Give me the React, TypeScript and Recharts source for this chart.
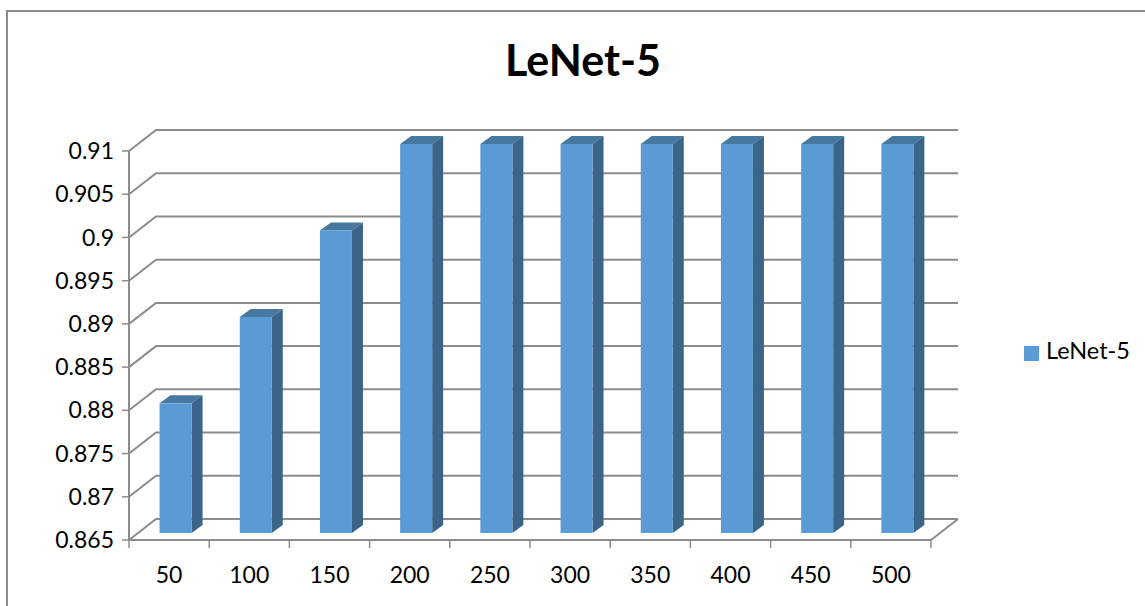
import { Bar, BarChart, CartesianGrid, Legend, XAxis, YAxis } from "recharts";

const categories = ["50", "100", "150", "200", "250", "300", "350", "400", "450", "500"];
const accuracy = [0.88, 0.89, 0.9, 0.91, 0.91, 0.91, 0.91, 0.91, 0.91, 0.91];
const yTicks = [0.865, 0.87, 0.875, 0.88, 0.885, 0.89, 0.895, 0.9, 0.905, 0.91];

const rows = categories.map((epoch, i) => ({ epoch, accuracy: accuracy[i] }));

const WIDTH = 1145;
const HEIGHT = 606;
const AXIS_COLOR = "#8c8c8c";
const FONT = "Lato, Carlito, Calibri, sans-serif";
const LABEL_SIZE = 23;

// pseudo-3D offsets: how far the back wall and the bars sit behind the front axis plane
const WALL_DX = 27;
const WALL_DY = 21;
const BAR_DX = 6.5;
const BAR_DY = 7;
const SIDE_DX = 11;
const SIDE_DY = 8;

function WallLine(props: any) {
  const { x1, x2, y1 } = props;
  const backY = y1 - WALL_DY;
  // the lowest line also closes the floor on the right
  const floor = y1 >= 539;
  return (
    <g fill="none" stroke={AXIS_COLOR} strokeWidth={2}>
      <polyline points={`${x1},${y1} ${x1 + WALL_DX},${backY} ${x2 + WALL_DX},${backY}`} />
      {floor && <line x1={x2} y1={y1} x2={x2 + WALL_DX} y2={backY} />}
    </g>
  );
}

function Bar3D(props: any) {
  const { x, y, width, height } = props;
  const left = x + BAR_DX;
  const right = left + width;
  const top = y - BAR_DY;
  const bottom = top + height;
  return (
    <g>
      <polygon
        points={`${left},${top} ${left + SIDE_DX},${top - SIDE_DY} ${right + SIDE_DX},${top - SIDE_DY} ${right},${top}`}
        fill="#47789f"
      />
      <polygon
        points={`${right},${top} ${right + SIDE_DX},${top - SIDE_DY} ${right + SIDE_DX},${bottom - SIDE_DY} ${right},${bottom}`}
        fill="#3a6589"
      />
      <rect x={left} y={top} width={width} height={height} fill="#5b9bd5" />
    </g>
  );
}

// tick marks sit on the band edges, labels in the band centre; y arrives below the axis line
function CategoryTick(props: any) {
  const { x, y, index, payload } = props;
  const band = 802 / categories.length;
  const edge = x - band / 2;
  const axisY = y - 8;
  return (
    <g>
      <line x1={edge} y1={axisY} x2={edge} y2={axisY + 8} stroke={AXIS_COLOR} strokeWidth={1.5} />
      {index === categories.length - 1 && (
        <line x1={edge + band} y1={axisY} x2={edge + band} y2={axisY + 8} stroke={AXIS_COLOR} strokeWidth={1.5} />
      )}
      <text x={x} y={axisY + 43} textAnchor="middle" fontSize={LABEL_SIZE} fontFamily={FONT} fill="#000">
        {payload.value}
      </text>
    </g>
  );
}

export default function App() {
  return (
    <div style={{ position: "absolute", left: 0, top: 0, width: WIDTH, height: HEIGHT, background: "#fff", overflow: "hidden" }}>
      <div
        style={{
          position: "absolute",
          left: 6,
          top: 10,
          right: 0,
          bottom: 0,
          borderLeft: "2px solid #8c8c8c",
          borderTop: "2px solid #8c8c8c",
        }}
      />
      <BarChart
        width={WIDTH}
        height={HEIGHT}
        data={rows}
        margin={{ top: 151, right: 214, bottom: 13, left: 69 }}
        barCategoryGap="30%"
        style={{ position: "absolute", left: 0, top: 0 }}
      >
        <text x={583} y={76} textAnchor="middle" fontSize={43} fontWeight={700} fontFamily={FONT} fill="#000">
          LeNet-5
        </text>
        <CartesianGrid vertical={false} horizontal={(p: any) => <WallLine key={p.key} {...p} />} />
        <XAxis
          dataKey="epoch"
          height={25}
          interval={0}
          tickLine={false}
          axisLine={{ stroke: AXIS_COLOR, strokeWidth: 2 }}
          tick={<CategoryTick />}
        />
        <YAxis
          width={60}
          domain={[0.865, 0.91]}
          ticks={yTicks}
          interval={0}
          tickSize={7}
          tickMargin={8}
          axisLine={{ stroke: AXIS_COLOR, strokeWidth: 2 }}
          tickLine={{ stroke: AXIS_COLOR, strokeWidth: 1.5 }}
          tick={{ fontSize: LABEL_SIZE, fontFamily: FONT, fill: "#000" }}
        />
        <Legend
          layout="vertical"
          iconType="square"
          iconSize={15}
          wrapperStyle={{ left: 1024, top: 336, width: 121, fontFamily: FONT, fontSize: 23.5 }}
          formatter={(value) => <span style={{ color: "#000", marginLeft: 3 }}>{value}</span>}
        />
        <Bar dataKey="accuracy" name="LeNet-5" fill="#5b9bd5" shape={<Bar3D />} isAnimationActive={false} />
      </BarChart>
    </div>
  );
}
